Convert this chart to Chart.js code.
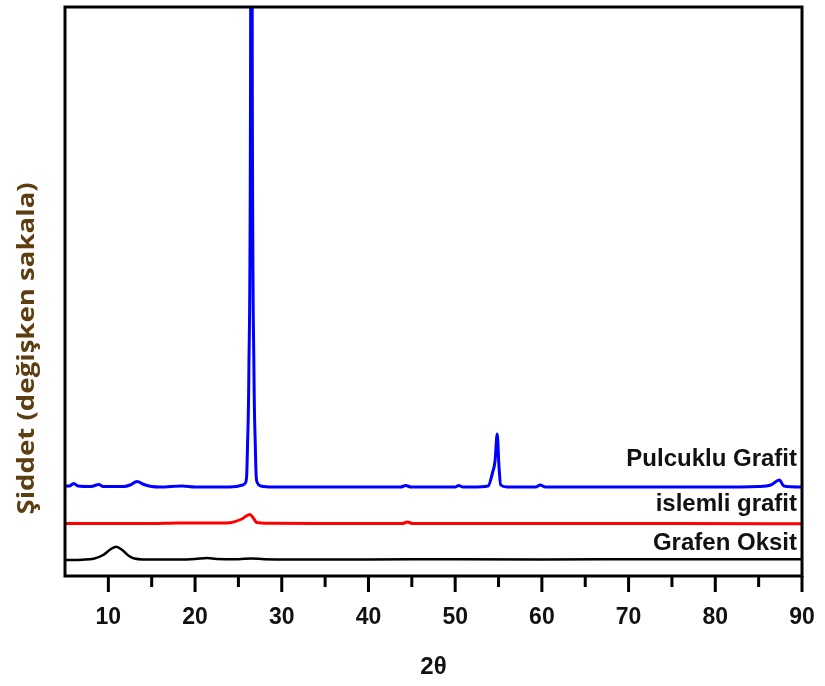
<!DOCTYPE html>
<html>
<head>
<meta charset="utf-8">
<script src="https://cdn.jsdelivr.net/npm/chart.js@4/dist/chart.umd.min.js"></script>
<style>
  html, body { margin: 0; padding: 0; background: #fff; }
  #wrap { width: 825px; height: 686px; }
</style>
</head>
<body>
<div id="wrap"><canvas id="xrd"></canvas></div>
<script>
// XRD patterns (2θ in degrees, intensity in arbitrary units, curves offset vertically)
const flakeAngle = [5, 5.5, 6, 6.5, 8, 8.9, 9.4, 11.8, 12.5, 13.3, 14.1, 15, 16, 18.5, 20, 24, 25.5, 25.8, 25.95, 26.05, 26.2, 26.4, 26.5, 26.6, 26.8, 26.95, 27.05, 27.2, 27.6, 29, 35, 40, 43.7, 44.3, 44.9, 50, 50.4, 50.9, 52, 53.8, 54.3, 54.6, 54.85, 55.05, 55.25, 56, 59.3, 59.8, 60.4, 70, 80, 85, 86.4, 87.4, 87.9, 90];
const flakeIntensity = [90, 90, 92.5, 90, 89.5, 91.5, 89.5, 89.5, 91, 94.5, 91.5, 89.5, 89, 90, 89, 89, 91, 93, 100, 130, 200, 500, 1200, 500, 200, 130, 100, 93, 90, 89, 89, 89, 89, 90.5, 89, 89, 90.5, 89, 89, 90, 103, 115, 142, 110, 91, 89, 89, 91, 89, 89, 89, 89.5, 91, 96, 90, 89];

const treatedAngle = [5, 10, 15, 18, 22, 24, 25.4, 26.3, 26.8, 27.1, 28.5, 35, 43.9, 44.5, 45.1, 60, 75, 90];
const treatedIntensity = [52.5, 52.5, 52.5, 53, 53, 53.3, 57, 61.5, 57, 53.5, 52.7, 52.5, 52.5, 54, 52.5, 52.5, 52.5, 52.3];

const oxideAngle = [5, 7, 8.3, 9.4, 10.3, 10.9, 11.6, 12.3, 13, 14, 18, 20, 21.4, 22.5, 25, 26.5, 28, 35, 45, 60, 75, 90];
const oxideIntensity = [16, 16.3, 17.2, 21, 27, 29.3, 26, 20.5, 17.5, 16.6, 16.5, 17, 18, 17, 16.8, 17.5, 16.8, 16.5, 16.7, 16.6, 16.8, 16.8];

const seriesNames = ['Pulcuklu Grafit', 'islemli grafit', 'Grafen Oksit'];
const xTicks = [10, 20, 30, 40, 50, 60, 70, 80, 90];
const xMinorTicks = [15, 25, 35, 45, 55, 65, 75, 85];

const xTitle = '2θ';
const yTitle = 'Şiddet (değişken sakala)';

// label heights (same units as the intensity axis)
const nameLevels = [117, 72, 33];

const toPoints = (xs, ys) => xs.map((v, i) => ({ x: v, y: ys[i] }));

const framePlugin = {
  id: 'frame',
  afterDatasetsDraw(chart) {
    const { ctx, chartArea: a, scales: { x, y } } = chart;
    ctx.save();
    ctx.strokeStyle = '#000';
    ctx.lineWidth = 3;
    ctx.strokeRect(a.left, a.top, a.right - a.left, a.bottom - a.top);

    // tick marks below the axis
    ctx.beginPath();
    xTicks.forEach(v => {
      const px = x.getPixelForValue(v);
      ctx.moveTo(px, a.bottom);
      ctx.lineTo(px, a.bottom + 16);
    });
    xMinorTicks.forEach(v => {
      const px = x.getPixelForValue(v);
      ctx.moveTo(px, a.bottom);
      ctx.lineTo(px, a.bottom + 11);
    });
    ctx.stroke();

    // curve names
    ctx.font = 'bold 24px "Liberation Sans", Arial, sans-serif';
    ctx.textAlign = 'right';
    ctx.textBaseline = 'middle';
    ctx.fillStyle = '#111';
    seriesNames.forEach((n, i) => ctx.fillText(n, a.right - 5, y.getPixelForValue(nameLevels[i])));

    // vertical axis title
    ctx.translate(a.left - 38, a.top + (a.bottom - a.top) * 0.6);
    ctx.rotate(-Math.PI / 2);
    ctx.scale(1.15, 1);
    ctx.font = 'bold 24px "Open Sans", sans-serif';
    ctx.textAlign = 'center';
    ctx.fillStyle = '#5e3e10';
    ctx.fillText(yTitle, 0, 0);
    ctx.restore();
  }
};

const lineStyle = { pointRadius: 0, borderWidth: 3, tension: 0, cubicInterpolationMode: 'monotone', fill: false };

new Chart(document.getElementById('xrd'), {
  type: 'line',
  data: {
    datasets: [
      { label: seriesNames[2], data: toPoints(oxideAngle, oxideIntensity), borderColor: '#000000', ...lineStyle, borderWidth: 2.5 },
      { label: seriesNames[1], data: toPoints(treatedAngle, treatedIntensity), borderColor: '#ff0000', ...lineStyle },
      { label: seriesNames[0], data: toPoints(flakeAngle, flakeIntensity), borderColor: '#0000ff', ...lineStyle }
    ]
  },
  options: {
    responsive: true,
    maintainAspectRatio: false,
    animation: false,
    layout: { padding: { left: 65, top: 7, right: 23, bottom: 0 } },
    plugins: { legend: { display: false }, tooltip: { enabled: false } },
    scales: {
      x: {
        type: 'linear',
        min: 5,
        max: 90,
        afterBuildTicks: axis => { axis.ticks = xTicks.map(v => ({ value: v })); },
        afterFit: axis => { axis.height = 110; axis.paddingLeft = 0; axis.paddingRight = 0; },
        grid: { display: false, drawTicks: false },
        border: { display: false },
        ticks: {
          padding: 28,
          color: '#111',
          font: { family: '"Liberation Sans", Arial, sans-serif', size: 23, weight: 'bold' }
        },
        title: {
          display: true,
          text: xTitle,
          color: '#111',
          padding: { top: 0, bottom: 4 },
          font: { family: '"Liberation Sans", Arial, sans-serif', size: 24, weight: 'bold' }
        }
      },
      y: {
        type: 'linear',
        display: false,
        min: 0,
        max: 569
      }
    }
  },
  plugins: [framePlugin]
});
</script>
</body>
</html>
